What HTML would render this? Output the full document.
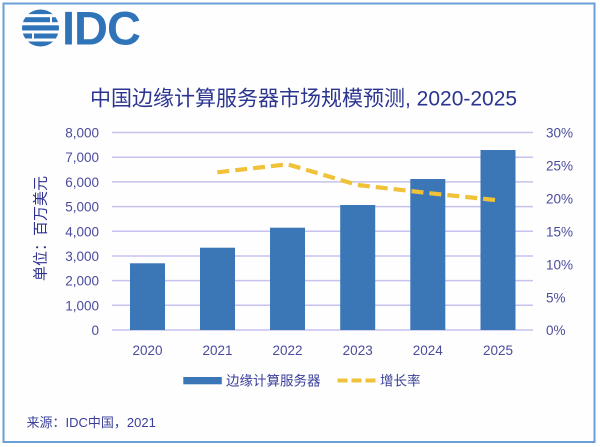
<!DOCTYPE html>
<html>
<head>
<meta charset="utf-8">
<style>
html,body{margin:0;padding:0;background:#fff;}
svg{display:block;}
text{font-family:"Liberation Sans","Noto Sans CJK SC",sans-serif;}
</style>
</head>
<body>
<svg width="600" height="447" viewBox="0 0 600 447" xmlns="http://www.w3.org/2000/svg">
  <rect x="0" y="0" width="600" height="447" fill="#ffffff"/>
  <rect x="3.5" y="3.5" width="591" height="438.5" fill="#fefefe" stroke="#6aa0d8" stroke-width="2"/>

  <!-- Logo globe -->
  <defs>
    <clipPath id="globe"><circle cx="40.5" cy="28" r="18.5"/></clipPath>
  </defs>
  <g clip-path="url(#globe)" fill="#2f74b9">
    <rect x="20" y="9.5" width="42" height="4.6"/>
    <rect x="20" y="17.2" width="30" height="5"/>
    <rect x="52" y="17.2" width="10" height="5"/>
    <rect x="20" y="25.3" width="42" height="5.2"/>
    <rect x="20" y="33.5" width="12" height="5"/>
    <rect x="34" y="33.5" width="28" height="5"/>
    <rect x="20" y="41.5" width="42" height="5.5"/>
  </g>
  <text x="62" y="44.5" font-size="47" font-weight="bold" fill="#2f74b9" letter-spacing="-1">IDC</text>

  <!-- Title -->
  <text x="90" y="105.5" font-size="21" fill="#2b3590">中国边缘计算服务器市场规模预测, 2020-2025</text>

  <!-- Gridlines -->
  <g stroke="#c6c2ee" stroke-width="1.5">
    <line x1="112" y1="132.5" x2="533" y2="132.5"/>
    <line x1="112" y1="157.2" x2="533" y2="157.2"/>
    <line x1="112" y1="181.9" x2="533" y2="181.9"/>
    <line x1="112" y1="206.6" x2="533" y2="206.6"/>
    <line x1="112" y1="231.3" x2="533" y2="231.3"/>
    <line x1="112" y1="256" x2="533" y2="256"/>
    <line x1="112" y1="280.6" x2="533" y2="280.6"/>
    <line x1="112" y1="305.3" x2="533" y2="305.3"/>
    <line x1="112" y1="330" x2="533" y2="330"/>
  </g>

  <!-- Bars -->
  <g fill="#3b76b6">
    <rect x="130" y="263.3" width="35" height="66.7"/>
    <rect x="200" y="247.7" width="35" height="82.3"/>
    <rect x="270" y="227.7" width="35" height="102.3"/>
    <rect x="340.2" y="205" width="35" height="125"/>
    <rect x="410.3" y="179" width="35" height="151"/>
    <rect x="480.5" y="150" width="35" height="180"/>
  </g>

  <!-- Growth line -->
  <polyline points="217.3,172.3 287.5,164.3 357.7,185 427.8,193 495,200" fill="none" stroke="#f0c23a" stroke-width="4.2" stroke-dasharray="12 6"/>

  <!-- Left ticks -->
  <g font-size="13.5" fill="#4a4c9c" text-anchor="end">
    <text x="99" y="137.5">8,000</text>
    <text x="99" y="162.2">7,000</text>
    <text x="99" y="186.9">6,000</text>
    <text x="99" y="211.6">5,000</text>
    <text x="99" y="236.3">4,000</text>
    <text x="99" y="261">3,000</text>
    <text x="99" y="285.6">2,000</text>
    <text x="99" y="310.3">1,000</text>
    <text x="99" y="335">0</text>
  </g>

  <!-- Right ticks -->
  <g font-size="13.5" fill="#4a4c9c" text-anchor="start">
    <text x="546" y="137.5">30%</text>
    <text x="546" y="170.5">25%</text>
    <text x="546" y="203.5">20%</text>
    <text x="546" y="236.5">15%</text>
    <text x="546" y="269.5">10%</text>
    <text x="546" y="302.5">5%</text>
    <text x="546" y="335">0%</text>
  </g>

  <!-- X labels -->
  <g font-size="13.5" fill="#4a4c9c" text-anchor="middle">
    <text x="147.5" y="355">2020</text>
    <text x="217.5" y="355">2021</text>
    <text x="287.5" y="355">2022</text>
    <text x="357.7" y="355">2023</text>
    <text x="427.8" y="355">2024</text>
    <text x="498" y="355">2025</text>
  </g>

  <!-- Y axis title -->
  <text transform="translate(45.5,228.5) rotate(-90)" font-size="15" fill="#2e3192" text-anchor="middle">单位：百万美元</text>

  <!-- Legend -->
  <rect x="183.3" y="377" width="38.5" height="7.3" fill="#3b76b6"/>
  <text x="226" y="385.3" font-size="13.5" fill="#3a3f9a">边缘计算服务器</text>
  <line x1="337.5" y1="380.5" x2="375.5" y2="380.5" stroke="#f0c23a" stroke-width="4" stroke-dasharray="10 4"/>
  <text x="380" y="385.3" font-size="13.5" fill="#3a3f9a">增长率</text>

  <!-- Source -->
  <text x="26.5" y="427" font-size="13" fill="#3a3f9a">来源：IDC中国，2021</text>
</svg>
</body>
</html>
